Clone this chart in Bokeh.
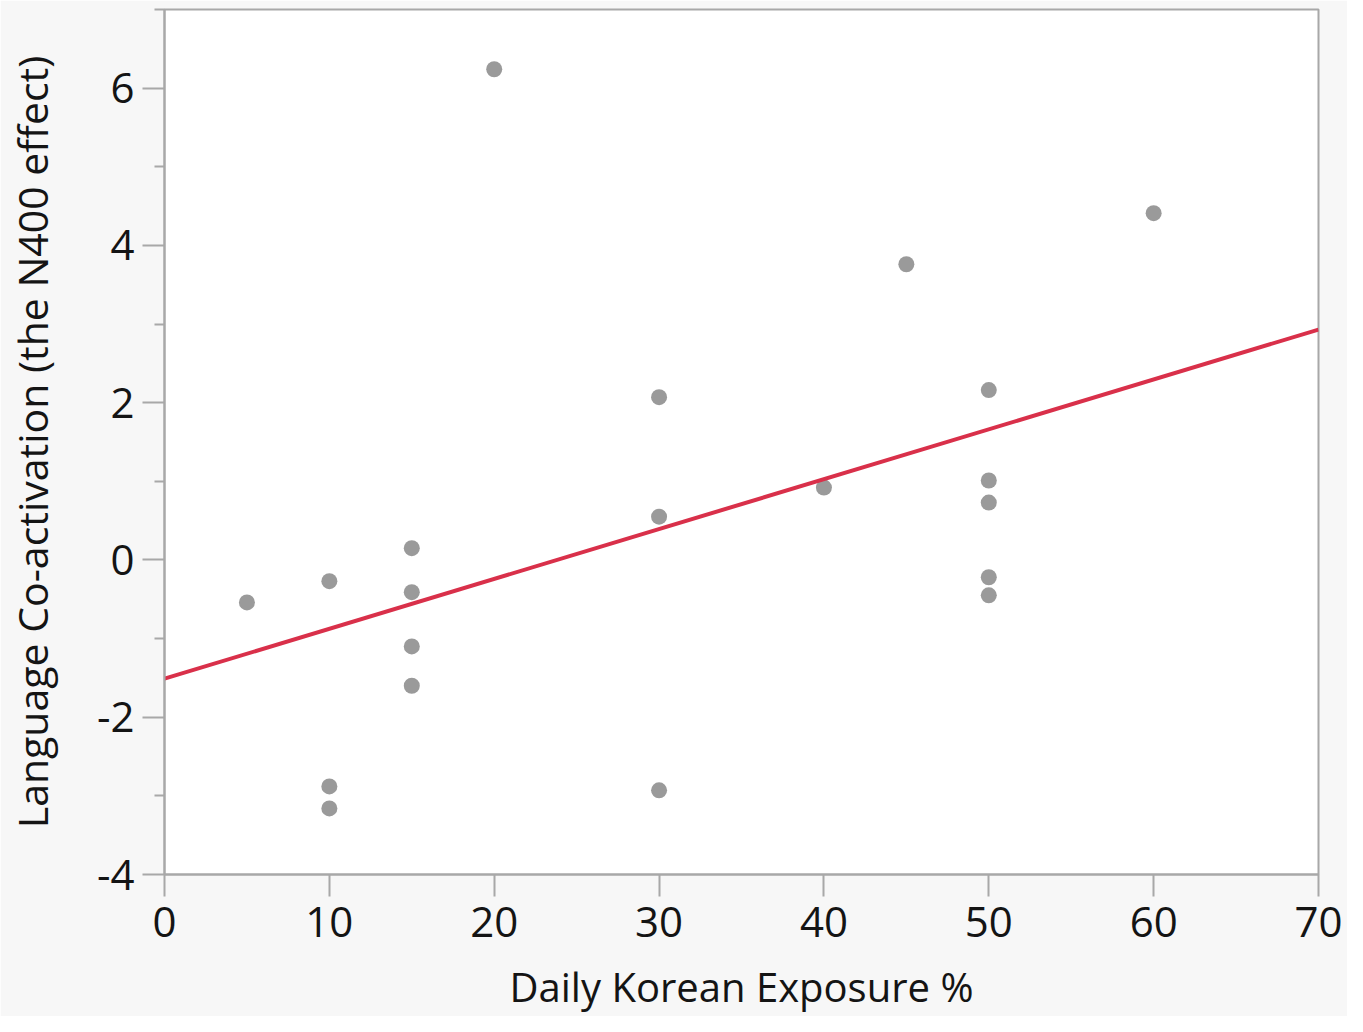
from bokeh.plotting import figure
from bokeh.models import FixedTicker
from bokeh.embed import file_html
from bokeh.resources import INLINE

# Data
exposure = [5, 10, 10, 10, 15, 15, 15, 15, 20, 30, 30, 30, 40, 45, 50, 50, 50, 50, 50, 60]
n400 = [-0.54, -0.27, -2.88, -3.16, 0.15, -0.41, -1.10, -1.60, 6.24, 2.07, 0.55, -2.93,
        0.92, 3.76, 2.16, 1.01, 0.73, -0.22, -0.45, 4.41]
fit_x = [0, 70]
fit_y = [-1.51, 2.93]
x_ticks = [0, 10, 20, 30, 40, 50, 60, 70]
y_ticks = [-4, -2, 0, 2, 4, 6]
y_labels = ["-4", "-2", "0", "2", "4", "6"]
y_minor = [-3, -1, 1, 3, 5, 7]

FONT = "Open Sans"
GRID = "#a8a8a8"

p = figure(width=1347, height=1016, output_backend="svg", toolbar_location=None,
           x_range=(0, 70), y_range=(-4, 7),
           min_border_left=164, min_border_right=29, min_border_top=9, min_border_bottom=142)
p.background_fill_color = "white"
p.border_fill_color = "#f7f7f7"
p.outline_line_color = GRID
p.outline_line_width = 2
p.grid.visible = False

p.scatter(exposure, n400, size=16, color="#9a9a9a", line_color=None)
p.line(fit_x, fit_y, line_color="#d9304a", line_width=4)

for ax in (p.xaxis[0], p.yaxis[0]):
    ax.axis_line_color = GRID
    ax.axis_line_width = 2
    ax.major_tick_line_color = GRID
    ax.major_tick_line_width = 2
    ax.minor_tick_line_color = GRID
    ax.minor_tick_line_width = 2
    ax.major_tick_out = 22
    ax.major_tick_in = 0
    ax.minor_tick_out = 10
    ax.minor_tick_in = 0
    ax.major_label_text_font = FONT
    ax.major_label_text_font_size = "42px"
    ax.major_label_text_color = "#141414"
    ax.axis_label_text_font = FONT
    ax.axis_label_text_font_size = "40px"
    ax.axis_label_text_font_style = "normal"
    ax.axis_label_text_color = "#141414"

p.yaxis.axis_label_text_font_size = "41px"
p.xaxis.ticker = FixedTicker(ticks=x_ticks, minor_ticks=[])
p.yaxis.ticker = FixedTicker(ticks=y_ticks, minor_ticks=y_minor)
p.yaxis.major_label_overrides = {t: s for t, s in zip(y_ticks, y_labels)}
p.xaxis.axis_label = "Daily Korean Exposure %"
p.yaxis.axis_label = "Language Co-activation (the N400 effect)"
p.xaxis.major_label_standoff = 10
p.yaxis.major_label_standoff = 8
p.xaxis.axis_label_standoff = 19
p.yaxis.axis_label_standoff = 34

open("out.html", "w").write(file_html(p, INLINE))
